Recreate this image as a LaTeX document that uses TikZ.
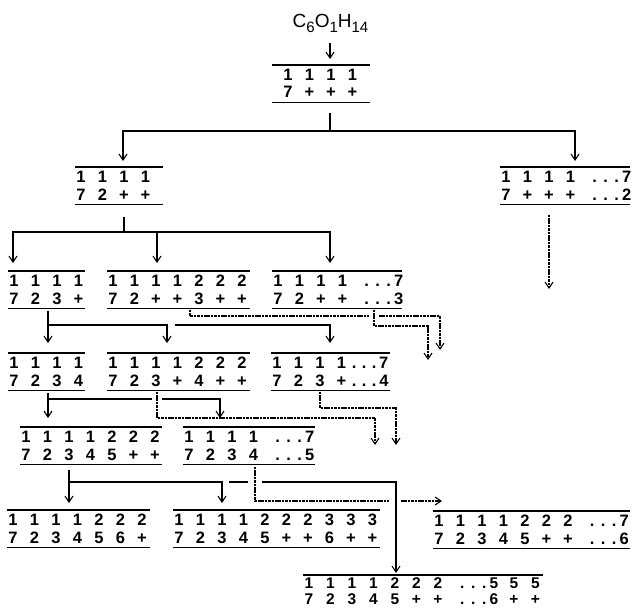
\documentclass[tikz,border=0pt]{standalone}
\usepackage{fontspec}
\setmainfont{Liberation Sans}
\usetikzlibrary{arrows.meta}
\newcommand\cel[1]{\makebox[21.5pt]{#1}}
\newcommand\Dd[1]{\makebox[54.5pt][l]{\hspace{8pt}\makebox[11pt]{.}\makebox[11pt]{.}\makebox[11pt]{.}#1}}
\newcommand\Ee[1]{\makebox[40pt][l]{\hspace{-3pt}\makebox[10pt]{.}\makebox[10pt]{.}\makebox[10pt]{.}#1}}
\tikzset{
  bar/.style={line width=1.6pt},
  ln/.style={line width=1.2pt},
  arr/.style={ln, -{Straight Barb[length=6pt,width=8pt,line width=1.1pt]}},
  dot/.style={line width=1.1pt, dash pattern=on 2.6pt off 0.8pt},
  frame/.style={inner sep=0pt, outer sep=0pt, minimum height=37.5pt, draw=none},
  rowtxt/.style={anchor=base west, inner sep=0pt, outer sep=0pt, font=\fontsize{16.5}{16.5}\selectfont\bfseries},
  rowsm/.style={rowtxt, font=\fontsize{15.5}{15.5}\selectfont\bfseries},
}
% #1 text xshift, #2 name, #3 left, #4 right, #5 top, #6 row1, #7 row2
\newcommand\blk[7][-4.75pt]{%
  \node[frame, minimum width={#4pt-#3pt}, anchor=north west] (#2) at (#3,#5) {};
  \draw[bar] (#2.north west) -- (#2.north east);
  \draw[bar] (#2.south west) -- (#2.south east);
  \node[rowtxt] (#2-a) at ([xshift=#1, yshift=-15.5pt]#2.north west) {#6};
  \node[rowtxt] (#2-b) at ([xshift=#1, yshift=-33pt]#2.north west) {#7};
}
\begin{document}
\begin{tikzpicture}[x=1pt,y=-1pt]
\useasboundingbox (0,0) rectangle (632,610);

% title
\node[anchor=base, inner sep=0pt, font=\fontsize{19}{19}\selectfont] (title) at (330.5,28)
  {C\raisebox{-4.5pt}{\fontsize{15}{15}\selectfont 6}O\raisebox{-4.5pt}{\fontsize{15}{15}\selectfont 1}H\raisebox{-4.5pt}{\fontsize{15}{15}\selectfont 14}};

% blocks
\blk[5.25pt]{A}{272}{370}{65}{\cel1\cel1\cel1\cel1}{\cel7\cel+\cel+\cel+}
\blk{B}{75}{163}{167}{\cel1\cel1\cel1\cel1}{\cel7\cel2\cel+\cel+}
\blk{C}{500}{630}{167}{\cel1\cel1\cel1\cel1\Dd7}{\cel7\cel+\cel+\cel+\Dd2}
\blk{D}{8}{85}{271}{\cel1\cel1\cel1\cel1}{\cel7\cel2\cel3\cel+}
\blk{E}{107}{250}{271}{\cel1\cel1\cel1\cel1\cel2\cel2\cel2}{\cel7\cel2\cel+\cel+\cel3\cel+\cel+}
\blk{F}{272}{402}{271}{\cel1\cel1\cel1\cel1\Dd7}{\cel7\cel2\cel+\cel+\Dd3}
\blk{Dp}{8}{85}{353}{\cel1\cel1\cel1\cel1}{\cel7\cel2\cel3\cel4}
\blk{Ep}{107}{250}{353}{\cel1\cel1\cel1\cel1\cel2\cel2\cel2}{\cel7\cel2\cel3\cel+\cel4\cel+\cel+}
\blk{Fp}{271}{390}{353}{\cel1\cel1\cel1\cel1\Ee7}{\cel7\cel2\cel3\cel+\Ee4}
\blk{G}{20}{162}{427}{\cel1\cel1\cel1\cel1\cel2\cel2\cel2}{\cel7\cel2\cel3\cel4\cel5\cel+\cel+}
\blk{H}{183}{315}{427}{\cel1\cel1\cel1\cel1\Dd7}{\cel7\cel2\cel3\cel4\Dd5}
\blk{I}{7}{150}{510}{\cel1\cel1\cel1\cel1\cel2\cel2\cel2}{\cel7\cel2\cel3\cel4\cel5\cel6\cel+}
\blk{I2}{173}{380}{510}{\cel1\cel1\cel1\cel1\cel2\cel2\cel2\cel3\cel3\cel3}{\cel7\cel2\cel3\cel4\cel5\cel+\cel+\cel6\cel+\cel+}
\blk{K}{433}{630}{511}{\cel1\cel1\cel1\cel1\cel2\cel2\cel2\Dd7}{\cel7\cel2\cel3\cel4\cel5\cel+\cel+\Dd6}
% open block at bottom
\node[frame, minimum width=240pt, anchor=north west] (J) at (303,575) {};
\draw[bar] (J.north west) -- (J.north east);
\node[rowsm] (J-a) at ([xshift=-4.75pt, yshift=-13.5pt]J.north west)
  {\cel1\cel1\cel1\cel1\cel2\cel2\cel2\Dd5\cel5\cel5};
\node[rowsm] (J-b) at ([xshift=-4.75pt, yshift=-29.5pt]J.north west)
  {\cel7\cel2\cel3\cel4\cel5\cel+\cel+\Dd6\cel+\cel+};

% title -> A
\draw[arr, shorten <=10pt, shorten >=6pt] (330,0 |- title.south) -- (330,0 |- A.north);

% A -> B, C
\coordinate (jA) at (330,131);
\draw[ln, shorten <=10pt] (330,0 |- A.south) -- (jA);
\draw[arr, shorten >=6pt] (jA) -| (123,0 |- B.north);
\draw[arr, shorten >=6pt] (jA) -| (575,0 |- C.north);

% C -> (dotted)
\coordinate (eC) at (549,289);
\draw[arr, dot, shorten <=10pt] (549,0 |- C.south) -- (eC);

% B -> D, E, F
\coordinate (jB) at (124,232);
\draw[ln, shorten <=12pt] (124,0 |- B.south) -- (jB);
\draw[arr, shorten >=8pt] (jB) -| (13,0 |- D.north);
\draw[arr, shorten >=8pt] (jB) -| (330,0 |- F.north);
\draw[arr, shorten >=8pt] (157,0 |- jB) -- (157,0 |- E.north);

% D -> D', E', F'
\coordinate (jD) at (48,325);
\draw[arr, shorten <=2pt, shorten >=10pt] (48,0 |- D.south) -- (48,0 |- Dp.north);
\draw[arr, shorten >=10pt] (jD) -| (167,0 |- Ep.north);
\draw[arr, shorten >=10pt] (175,0 |- jD) -| (330,0 |- Fp.north);

% E -> (dotted), gap at F stem
\coordinate (eE) at (440,350);
\draw[dot, shorten <=1pt] (190,0 |- E.south) |- (369,316);
\draw[arr, dot] (379,316) -| (eE);
% F -> (dotted)
\coordinate (eF) at (428,360);
\draw[arr, dot, shorten <=1pt] (374,0 |- F.south) |- (eF |- 0,326) -- (eF);

% D' -> G, H
\coordinate (jDp) at (48,399);
\draw[arr, shorten <=2pt, shorten >=9pt] (48,0 |- Dp.south) -- (48,0 |- G.north);
\draw[ln] (jDp) -- (152,399);
\draw[arr, shorten >=9pt] (162,399) -| (220,0 |- H.north);
% E' -> (dotted)
\coordinate (eEp) at (375,445);
\draw[arr, dot, shorten <=1pt] (157,0 |- Ep.south) |- (eEp |- 0,418) -- (eEp);
% F' -> (dotted)
\coordinate (eFp) at (396,445);
\draw[arr, dot, shorten <=1pt] (320,0 |- Fp.south) |- (eFp |- 0,408) -- (eFp);

% G -> I, I2, J
\coordinate (jG) at (69,482);
\draw[arr, shorten <=5pt, shorten >=7pt] (69,0 |- G.south) -- (69,0 |- I.north);
\draw[arr, shorten >=7pt] (jG) -| (222,0 |- I2.north);
\draw[ln] (229,482) -- (248,482);
\draw[arr, shorten >=2pt] (262,482) -| (396,0 |- J.north);
% H -> K (dotted)
\coordinate (eH) at (442,501);
\draw[dot, shorten <=2pt] (255,0 |- H.south) |- (389,501);
\draw[arr, dot] (401,501) -- (eH);
\end{tikzpicture}
\end{document}
